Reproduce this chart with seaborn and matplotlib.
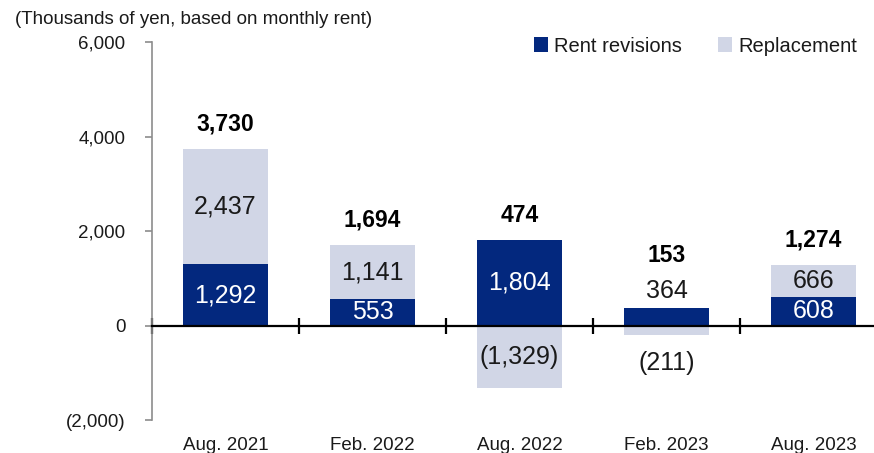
import numpy as np
import pandas as pd
import seaborn as sns
import matplotlib.pyplot as plt
from matplotlib.ticker import FuncFormatter

# Data (thousands of yen, monthly rent)
periods = ["Aug. 2021", "Feb. 2022", "Aug. 2022", "Feb. 2023", "Aug. 2023"]
rent_revisions = [1292, 553, 1804, 364, 608]
replacement = [2437, 1141, -1329, -211, 666]
totals = [3730, 1694, 474, 153, 1274]

navy = "#03287e"
light = "#d1d6e6"
text_dark = "#1a1a1a"

sns.set_style("white")
plt.rcParams['font.family'] = ['Liberation Sans', 'DejaVu Sans']

df = pd.DataFrame({"period": periods,
                   "rev": rent_revisions,
                   "repl": replacement,
                   "total": totals})
df["repl_bottom"] = np.where(df["repl"] > 0, df["rev"], 0)

fig = plt.figure(figsize=(8.74, 4.53), dpi=100)
ax = fig.add_axes([0.1739, 0.0728, 0.841, 0.8344])

sns.barplot(data=df, x="period", y="rev", color=navy, saturation=1,
            width=0.58, ax=ax, label="Rent revisions", linewidth=0)
sns.barplot(data=df, x="period", y="repl", color=light, saturation=1,
            width=0.58, ax=ax, bottom=df["repl_bottom"].values,
            label="Replacement", linewidth=0)

ax.set_xlim(-0.5, 4.5)
ax.set_ylim(-2000, 6000)
ax.set_yticks([-2000, 0, 2000, 4000, 6000])
ax.yaxis.set_major_formatter(FuncFormatter(
    lambda v, p: f"({abs(v):,.0f})" if v < 0 else f"{v:,.0f}"))
ax.set_xlabel("")
ax.set_ylabel("")

# spines
for s in ["top", "right"]:
    ax.spines[s].set_visible(False)
ax.spines["left"].set_color("#8c8c8c")
ax.spines["left"].set_linewidth(1.2)
ax.spines["bottom"].set_position(("data", 0))
ax.spines["bottom"].set_color("black")
ax.spines["bottom"].set_linewidth(1.6)
ax.spines["bottom"].set_zorder(5)

ax.tick_params(axis="y", which="major", direction="out", length=5, width=1.2,
               color="#8c8c8c", pad=14, labelsize=13.5, labelcolor=text_dark,
               left=True)
ax.set_xticks([-0.5, 0.5, 1.5, 2.5, 3.5, 4.5], minor=True)
ax.tick_params(axis="x", which="minor", direction="inout", length=11,
               width=1.6, color="black", bottom=True)
ax.tick_params(axis="x", which="major", length=0, pad=80, labelsize=13.5,
               labelcolor=text_dark)

# value labels
for i, row in df.iterrows():
    top = row["rev"] + max(row["repl"], 0)
    bottom = min(row["repl"], 0)
    above = 0
    # rent revisions
    if abs(row["rev"]) >= 400:
        ax.text(i, row["rev"] / 2, f"{row['rev']:,}", ha="center", va="center",
                color="white", fontsize=18)
    else:
        ax.annotate(f"{row['rev']:,}", (i, top), xytext=(0, 12.5),
                    textcoords="offset points", ha="center", va="center",
                    color=text_dark, fontsize=18)
        above = 20
    # replacement
    r = row["repl"]
    lab = f"({abs(r):,})" if r < 0 else f"{r:,}"
    if abs(r) >= 400:
        ax.text(i, row["repl_bottom"] + r / 2, lab, ha="center", va="center",
                color=text_dark, fontsize=18)
    else:
        ax.annotate(lab, (i, bottom), xytext=(0, -20),
                    textcoords="offset points", ha="center", va="center",
                    color=text_dark, fontsize=18)
    # total
    ax.annotate(f"{row['total']:,}", (i, top), xytext=(0, 18 + above),
                textcoords="offset points", ha="center", va="center",
                color="black", fontsize=16.5, fontweight="bold")

fig.text(15 / 874, 1 - 19 / 453, "(Thousands of yen, based on monthly rent)",
         ha="left", va="center", fontsize=13.5, color=text_dark)

ax.legend(loc="center right", bbox_to_anchor=(865 / 874, 1 - 46 / 453),
          bbox_transform=fig.transFigure, ncol=2, frameon=False,
          handlelength=0.7, handleheight=0.7, handletextpad=0.3,
          columnspacing=1.8, fontsize=14.5, borderaxespad=0,
          labelcolor=text_dark)

fig.savefig("out.png", dpi=100)
